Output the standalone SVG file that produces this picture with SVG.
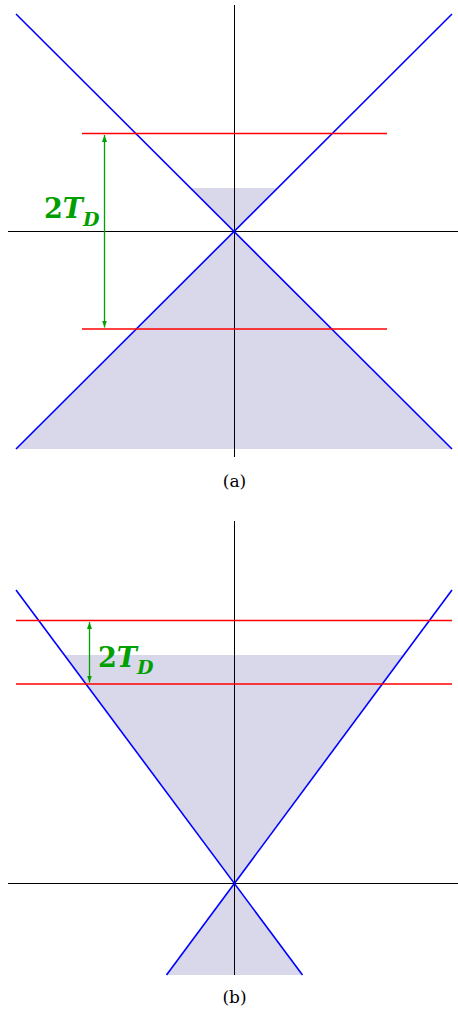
<svg xmlns="http://www.w3.org/2000/svg" width="458" height="1013" viewBox="0 0 458 1013">
<defs>
<style>
.shade{fill:#d8d8ea;stroke:none}
.axis{stroke:#000;stroke-width:1;fill:none}
.blue{stroke:#0000ff;stroke-width:1.6;fill:none}
.red{stroke:#ff0000;stroke-width:1.6;fill:none}
.grn{stroke:#00a000;stroke-width:1.3;fill:none}
.lbl{font-weight:bold;fill:#00a000}
.cap{font-size:17px;fill:#000;text-anchor:middle}
</style>
<marker id="ah" markerWidth="8" markerHeight="8" refX="7" refY="4" orient="auto-start-reverse" markerUnits="userSpaceOnUse">
<path d="M0,1.5 L7,4 L0,6.5 Z" fill="#00a000"/>
</marker>
</defs>
<g id="fig-a">
<g id="a-shade">
<polygon class="shade" points="191,188 277,188 234.5,231"/>
<polygon class="shade" points="234.5,231 16,449 452,449"/>
</g>
<g id="a-axes">
<line class="axis" x1="234.5" y1="5" x2="234.5" y2="457"/>
<line class="axis" x1="8" y1="231.5" x2="458" y2="231.5"/>
</g>
<g id="a-cone">
<line class="blue" x1="16" y1="14" x2="452" y2="449"/>
<line class="blue" x1="452" y1="14" x2="16" y2="449"/>
</g>
<g id="a-levels">
<line class="red" x1="82" y1="133.5" x2="387" y2="133.5"/>
<line class="red" x1="82" y1="329" x2="387" y2="329"/>
</g>
<g id="a-connectors">
<line class="grn" x1="104.5" y1="135" x2="104.5" y2="327.5" marker-start="url(#ah)" marker-end="url(#ah)"/>
</g>
<g id="a-label">
<text class="lbl" font-family="'DejaVu Serif', serif" x="44" y="218" font-size="27">2<tspan font-style="italic">T</tspan><tspan font-style="italic" font-size="19" dy="8">D</tspan></text>
</g>
<text class="cap" font-family="'DejaVu Serif', serif" x="234.5" y="487">(a)</text>
</g>
<g id="fig-b">
<g id="b-shade">
<polygon class="shade" points="64.4,655 403.6,655 234.5,883"/>
<polygon class="shade" points="234.5,883 166.5,975 302.5,975"/>
</g>
<g id="b-axes">
<line class="axis" x1="234.5" y1="521" x2="234.5" y2="975"/>
<line class="axis" x1="8" y1="883.5" x2="458" y2="883.5"/>
</g>
<g id="b-cone">
<line class="blue" x1="16" y1="590" x2="302.5" y2="975"/>
<line class="blue" x1="452" y1="590" x2="166.5" y2="975"/>
</g>
<g id="b-levels">
<line class="red" x1="16" y1="620.5" x2="452" y2="620.5"/>
<line class="red" x1="16" y1="684" x2="452" y2="684"/>
</g>
<g id="b-connectors">
<line class="grn" x1="89.5" y1="622" x2="89.5" y2="682.5" marker-start="url(#ah)" marker-end="url(#ah)"/>
</g>
<g id="b-label">
<text class="lbl" font-family="'DejaVu Serif', serif" x="98" y="667" font-size="27">2<tspan font-style="italic">T</tspan><tspan font-style="italic" font-size="19" dy="7">D</tspan></text>
</g>
<text class="cap" font-family="'DejaVu Serif', serif" x="234.5" y="1003">(b)</text>
</g>
</svg>
